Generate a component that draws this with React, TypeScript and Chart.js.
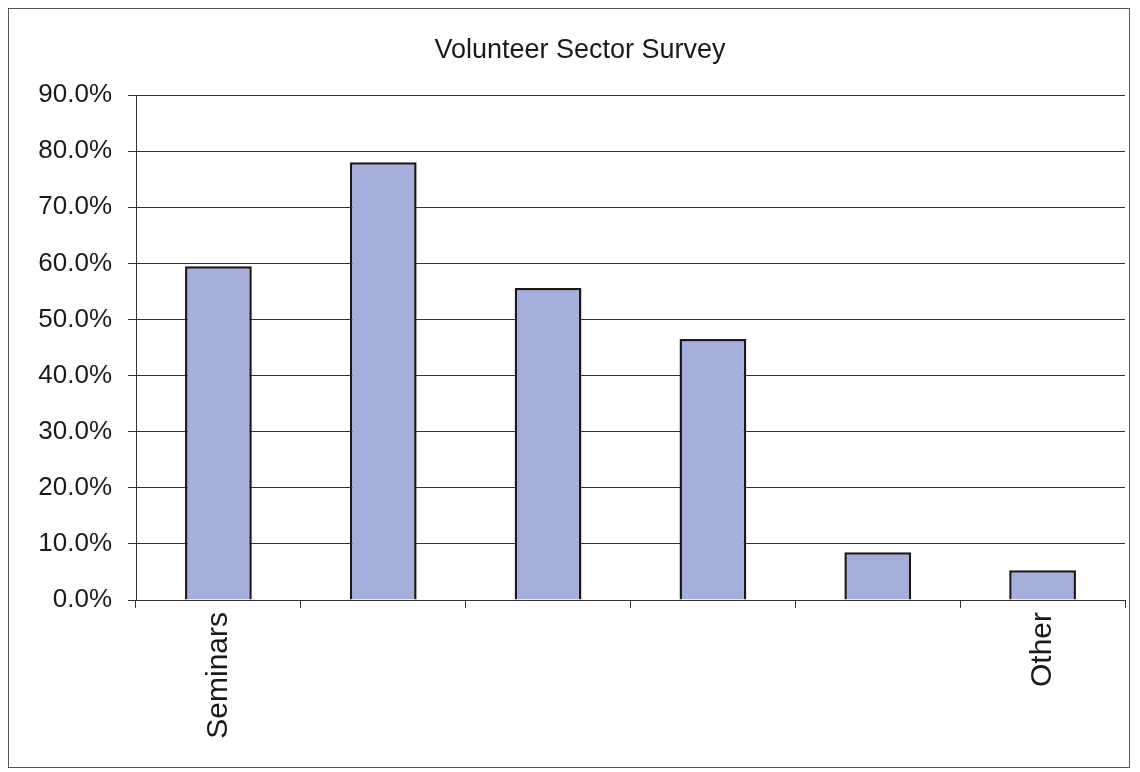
import React, { useEffect, useRef } from "react";
import { Chart, registerables } from "chart.js";

Chart.register(...registerables);

const chartTitle = "Volunteer Sector Survey";
const categories = ["Seminars", "", "", "", "", "Other"];
const values = [59.5, 78.0, 55.6, 46.5, 8.5, 5.3];
const yMin = 0;
const yMax = 90;
const yStep = 10;

export default function App() {
  const ref = useRef<HTMLCanvasElement | null>(null);

  useEffect(() => {
    if (!ref.current) return;
    const font = "'Liberation Sans', Arial, Helvetica, sans-serif";
    const chart = new Chart(ref.current, {
      type: "bar",
      data: {
        labels: categories,
        datasets: [
          {
            label: chartTitle,
            data: values,
            backgroundColor: "rgb(166,174,220)",
            borderColor: "#1a1a1a",
            borderWidth: 2.5,
            categoryPercentage: 1,
            barPercentage: 0.405,
          },
        ],
      },
      options: {
        animation: false,
        responsive: false,
        maintainAspectRatio: false,
        layout: { padding: { left: 26, right: 4, top: 0, bottom: 0 } },
        plugins: {
          legend: { display: false },
          tooltip: { enabled: false },
          title: {
            display: true,
            text: chartTitle,
            color: "#1a1a1a",
            font: { family: font, size: 27, weight: "normal" },
            padding: { top: 25, bottom: 28.6 },
          },
        },
        scales: {
          x: {
            grid: {
              display: true,
              drawOnChartArea: false,
              drawTicks: true,
              tickLength: 8,
              color: "#333",
              offset: true,
            },
            border: { display: true, color: "#333", width: 1 },
            ticks: {
              color: "#1a1a1a",
              font: { family: font, size: 30 },
              maxRotation: 90,
              minRotation: 90,
              padding: 4,
              autoSkip: false,
            },
            afterFit: (scale: any) => {
              scale.height = 167;
            },
          },
          y: {
            min: yMin,
            max: yMax,
            grid: {
              color: "#333",
              lineWidth: 1,
              drawTicks: true,
              tickLength: 8,
            },
            border: { display: true, color: "#333", width: 1 },
            ticks: {
              stepSize: yStep,
              color: "#1a1a1a",
              font: { family: font, size: 26 },
              padding: 16,
              callback: (v: any) => Number(v).toFixed(1) + "%",
            },
            afterFit: (scale: any) => {
              scale.width = 101;
            },
          },
        },
      },
    });
    return () => chart.destroy();
  }, []);

  return (
    <div
      style={{
        width: 1120,
        height: 758,
        border: "1px solid #555",
        background: "#fff",
      }}
    >
      <canvas ref={ref} width={1120} height={758} style={{ display: "block" }} />
    </div>
  );
}
